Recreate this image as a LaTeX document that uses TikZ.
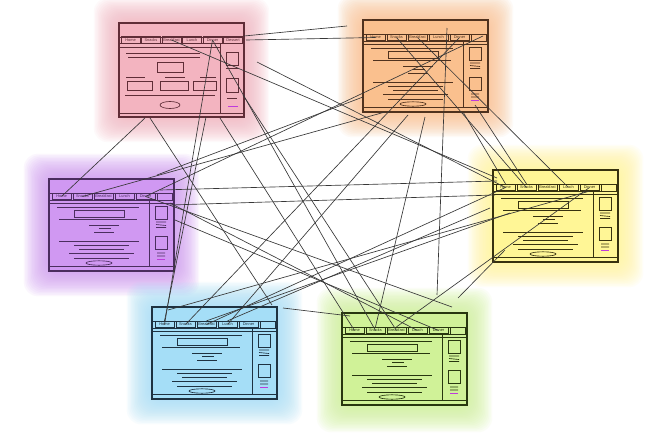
\documentclass[tikz,border=0pt]{standalone}
\usepackage{fontspec}
\setsansfont{Liberation Sans}
\usetikzlibrary{calc}
\definecolor{pkF}{RGB}{243,180,192}
\definecolor{orF}{RGB}{250,192,142}
\definecolor{ppF}{RGB}{208,152,242}
\definecolor{ylF}{RGB}{255,246,150}
\definecolor{blF}{RGB}{165,222,247}
\definecolor{grF}{RGB}{208,242,152}
\definecolor{pkD}{RGB}{95,45,55}
\definecolor{orD}{RGB}{80,50,30}
\definecolor{ppD}{RGB}{75,45,95}
\definecolor{ylD}{RGB}{55,50,15}
\definecolor{blD}{RGB}{30,50,65}
\definecolor{grD}{RGB}{40,55,15}
\definecolor{linkc}{RGB}{55,55,55}
\definecolor{magline}{RGB}{190,60,220}
\tikzset{
  frame/.style={draw=#1, line width=1.2pt},
  thinl/.style={draw=#1, line width=0.65pt},
  tabbox/.style={draw=#1, line width=0.8pt, minimum width=19pt, minimum height=6.5pt,
    inner sep=0pt, font=\fontsize{3.9}{4.5}\selectfont\sffamily, text=#1},
  link/.style={draw=linkc, line width=0.65pt},
}
\newcommand\glowbox[5]{%
  \foreach \k in {1,...,18}{%
    \fill[#5, opacity=0.08, rounded corners=14pt] ({#1-1.4*\k},{#2-1.4*\k}) rectangle ({#1+#3+1.4*\k},{#2+#4+1.4*\k});}}
\newcommand\stdpage[5]{%
  \begin{scope}[shift={(#2,#3)}]
    \fill[#4] (0,0) rectangle (125,92);
    \draw[thinl=#5] (0,14) -- (125,14) (0,21) -- (125,21) (0,24) -- (125,24);
    \draw[thinl=#5] (100,21) -- (100,87) (0,87) -- (125,87);
    \draw[thinl=#5] (8,28) -- (90,28) (10,40) -- (88,40)
      (40,46) -- (70,46) (50,49) -- (62,49) (45,53) -- (65,53)
      (10,62) -- (90,62) (25,66) -- (80,66) (30,70) -- (75,70)
      (20,74) -- (85,74) (25,79) -- (80,79);
    \draw[thinl=#5] (25,31) rectangle (75,38);
    \draw[thinl=#5] (50,84) ellipse [x radius=13, y radius=2.2];
    \draw[thinl=#5] (106,27) rectangle (118,40) (106,57) rectangle (118,70);
    \draw[thinl=#5] (107,43) -- (117,43) (107,45.5) -- (117,46.5) (107,48.5) -- (117,48.5)
      (108,74) -- (116,74) (108,77) -- (116,77);
    \draw[magline, line width=0.6pt] (108,80) -- (116,80);
    \foreach \i/\t in {0/Home,1/Snacks,2/Breakfast,3/Lunch,4/Dinner}
      \node[tabbox=#5] (#1-t\i) at ({12.5+21*\i},17.5) {\t};
    \draw[thinl=#5] (108,14) rectangle (123,21);
    \draw[frame=#5] (0,0) rectangle (125,92);
  \end{scope}}
\begin{document}
\begin{tikzpicture}[x=1pt,y=-1pt]
\useasboundingbox (0,0) rectangle (647,447);
\fill[white] (0,0) rectangle (647,447);
% glows
\glowbox{119}{23}{125}{94}{pkF}
\glowbox{363}{20}{125}{92}{orF}
\glowbox{49}{179}{125}{92}{ppF}
\glowbox{493}{170}{125}{92}{ylF}
\glowbox{152}{307}{125}{92}{blF}
\glowbox{342}{313}{125}{94}{grF}
% pink page
\begin{scope}[shift={(119,23)}]
  \fill[pkF] (0,0) rectangle (125,94);
  \draw[thinl=pkD] (0,14) -- (125,14) (0,20) -- (125,20) (0,24) -- (101,24);
  \draw[thinl=pkD] (101,20) -- (101,90) (0,90) -- (125,90);
  \draw[thinl=pkD] (7,30) -- (81,30) (9,34) -- (81,34);
  \draw[thinl=pkD] (38,39) rectangle (64,49);
  \draw[thinl=pkD] (7,54) -- (26,54) (46,54) -- (66,54) (81,54) -- (97,54);
  \draw[thinl=pkD] (8,58) rectangle (33,67) (41,58) rectangle (69,67) (74,58) rectangle (97,67);
  \draw[thinl=pkD] (6,72) -- (96,72);
  \draw[thinl=pkD] (51,82) ellipse [x radius=10, y radius=3.5];
  \draw[thinl=pkD] (107,29) rectangle (119,42) (107,55) rectangle (119,69);
  \draw[thinl=pkD] (107,45) -- (119,45) (108,75) -- (118,75);
  \draw[magline, line width=0.7pt] (109,83) -- (119,83);
  \foreach \i/\t in {0/Home,1/Snacks,2/Breakfast,3/Lunch,4/Dinner,5/Dessert}
    \node[tabbox=pkD] (pk-t\i) at ({11.5+20.5*\i},17) {\t};
  \draw[frame=pkD] (0,0) rectangle (125,94);
\end{scope}
\stdpage{or}{363}{20}{orF}{orD}
\stdpage{pp}{49}{179}{ppF}{ppD}
\stdpage{yl}{493}{170}{ylF}{ylD}
\stdpage{bl}{152}{307}{blF}{blD}
\stdpage{gr}{342}{313}{grF}{grD}
% connector end points
\path coordinate (pA) at (244,36) coordinate (fA) at (347,26)
  coordinate (pB) at (246,40) coordinate (pC) at (257,62)
  coordinate (yD) at (497,178) coordinate (pE) at (145,118)
  coordinate (pF) at (206,117) coordinate (pG) at (220,118)
  coordinate (pH) at (243,95) coordinate (pI) at (150,118) coordinate (fI) at (272,305)
  coordinate (oJ) at (483,36) coordinate (oK) at (447,28) coordinate (fK) at (437,295)
  coordinate (oL) at (425,117) coordinate (oM) at (385,112)
  coordinate (pvN) at (157,175) coordinate (oN) at (363,97)
  coordinate (oO) at (463,112) coordinate (oP) at (475,105) coordinate (oQ) at (408,115)
  coordinate (bR) at (168,310) coordinate (yS) at (505,250) coordinate (fS) at (458,298)
  coordinate (pvT) at (160,190) coordinate (yT) at (497,181)
  coordinate (pvU) at (170,205) coordinate (yU) at (495,195)
  coordinate (yV) at (510,213) coordinate (yW) at (490,208)
  coordinate (pvX) at (175,220) coordinate (bY) at (283,308) coordinate (gY) at (350,316)
  coordinate (fZ) at (452,307) coordinate (pvA) at (170,203);
% connectors
\draw[link] (pA) -- (fA);
\draw[link] (pB) -- (or-t0.center);
\draw[link] (pC) -- (yl-t0.center);
\draw[link] (pk-t2.center) -- (yD);
\draw[link] (pE) -- (pp-t0.center);
\draw[link] (pk-t4.center) -- (bl-t0.center);
\draw[link] (pF) -- (bl-t0.north);
\draw[link] (pG) -- (gr-t0.center);
\draw[link] (pk-t4.center) -- (gr-t1.center);
\draw[link] (pH) -- (gr-t2.center);
\draw[link] (pI) -- (fI);
\draw[link] (or-t4.center) -- (bl-t1.center);
\draw[link] (oJ) -- (pp-t4.center);
\draw[link] (or-t2.center) -- (yl-t3.center);
\draw[link] (or-t1.center) -- (yl-t1.center);
\draw[link] (oK) -- (fK);
\draw[link] (oL) -- (gr-t1.north);
\draw[link] (pp-t1.center) -- (oM);
\draw[link] (pvN) -- (oN);
\draw[link] (oO) -- (yl-t0.north);
\draw[link] (oP) -- (yl-t1.north);
\draw[link] (oQ) -- (bl-t3.center);
\draw[link] (yl-t0.center) -- (bl-t2.center);
\draw[link] (yl-t4.center) -- (gr-t2.north);
\draw[link] (bR) -- (yl-t4.south);
\draw[link] (yS) -- (fS);
\draw[link] (pvT) -- (yT);
\draw[link] (pvU) -- (yU);
\draw[link] (bl-t2.north) -- (yV);
\draw[link] (bl-t3.north) -- (yW);
\draw[link] (pvX) -- (gr-t4.center);
\draw[link] (bY) -- (gY);
\draw[link] (pp-t4.center) -- (fZ);
\draw[link] (pvA) -- (gr-t3.center);
\end{tikzpicture}
\end{document}
